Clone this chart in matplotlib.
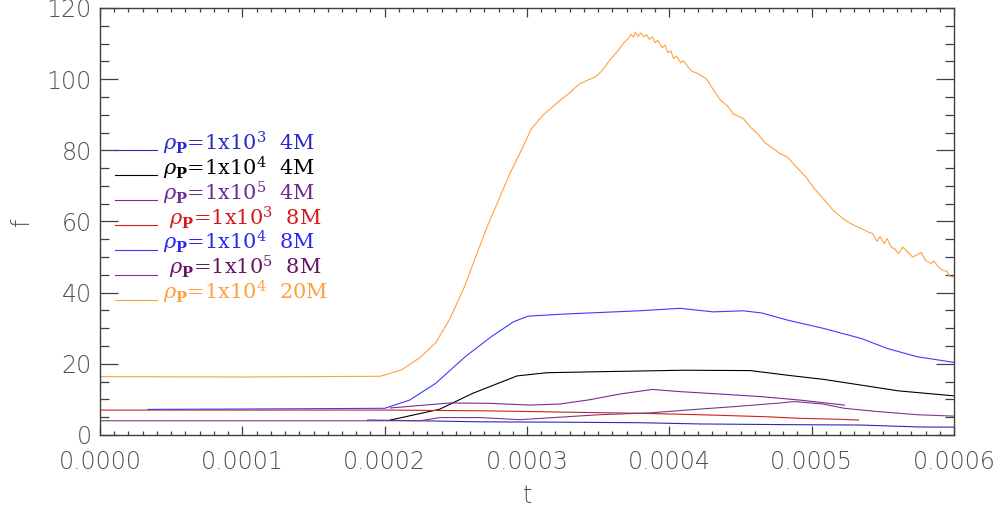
import matplotlib
matplotlib.use("Agg")
import matplotlib.pyplot as plt
import numpy as np
from matplotlib.ticker import MultipleLocator, FormatStrFormatter

# ---------------- data (t in seconds, f) ----------------
t_orange = [0.0, 1.0e-4, 1.97e-4, 2.12e-4, 2.25e-4, 2.36e-4, 2.46e-4, 2.56e-4, 2.64e-4, 2.72e-4,
            2.80e-4, 2.88e-4, 2.96e-4, 3.03e-4, 3.11e-4, 3.22e-4, 3.30e-4, 3.37e-4, 3.43e-4, 3.48e-4,
            3.53e-4, 3.58e-4, 3.64e-4, 3.68e-4, 3.71e-4, 3.73e-4, 3.75e-4, 3.76e-4, 3.78e-4, 3.80e-4,
            3.82e-4, 3.84e-4, 3.86e-4, 3.88e-4, 3.90e-4, 3.92e-4, 3.95e-4, 3.97e-4, 3.99e-4, 4.01e-4,
            4.03e-4, 4.05e-4, 4.08e-4, 4.10e-4, 4.13e-4, 4.16e-4, 4.20e-4, 4.26e-4, 4.31e-4, 4.36e-4,
            4.41e-4, 4.45e-4, 4.52e-4, 4.57e-4, 4.62e-4, 4.67e-4, 4.73e-4, 4.78e-4, 4.83e-4, 4.90e-4,
            4.96e-4, 5.02e-4, 5.09e-4, 5.15e-4, 5.22e-4, 5.27e-4, 5.32e-4, 5.37e-4, 5.40e-4, 5.43e-4,
            5.46e-4, 5.48e-4, 5.51e-4, 5.53e-4, 5.56e-4, 5.58e-4, 5.61e-4, 5.64e-4, 5.67e-4, 5.71e-4,
            5.74e-4, 5.77e-4, 5.80e-4, 5.84e-4, 5.86e-4, 5.89e-4, 5.92e-4, 5.95e-4, 5.97e-4, 6.00e-4]
f_orange = [16.4, 16.3, 16.5, 18.3, 21.8, 26.0, 32.8, 41.6, 50.1, 58.5,
            66.0, 73.5, 80.0, 86.0, 89.8, 93.6, 96.2, 98.7, 99.8, 100.6,
            102.5, 105.3, 108.0, 110.2, 111.4, 112.6, 111.8, 113.2, 112.0, 113.0,
            111.9, 112.5, 111.2, 111.9, 110.3, 110.9, 108.8, 109.6, 107.4, 108.0,
            105.8, 106.5, 104.6, 105.2, 103.5, 102.2, 101.6, 100.1, 97.0, 94.1,
            92.4, 90.2, 88.9, 86.5, 84.7, 82.2, 80.5, 79.0, 78.1, 75.0,
            72.5, 69.2, 66.0, 63.2, 60.8, 59.5, 58.5, 57.6, 57.0, 56.6,
            54.4, 55.8, 53.8, 55.2, 52.7, 52.4, 51.0, 52.8, 51.6, 50.0,
            50.6, 51.3, 49.0, 48.2, 48.9, 47.2, 46.3, 46.0, 44.6, 44.4]

t_blue8 = [0.337e-4, 1.0e-4, 2.0e-4, 2.175e-4, 2.358e-4, 2.566e-4, 2.748e-4, 2.904e-4, 3.008e-4,
           3.268e-4, 3.789e-4, 4.075e-4, 4.309e-4, 4.518e-4, 4.648e-4, 4.829e-4, 5.089e-4,
           5.35e-4, 5.532e-4, 5.74e-4, 6.0e-4]
f_blue8 = [7.2, 7.3, 7.5, 9.8, 14.5, 22.0, 27.6, 31.8, 33.4,
           34.0, 34.9, 35.6, 34.6, 34.9, 34.3, 32.3, 29.9,
           27.1, 24.3, 22.0, 20.4]

t_black4 = [2.04e-4, 2.2e-4, 2.384e-4, 2.618e-4, 2.93e-4, 3.138e-4, 3.528e-4, 4.101e-4,
            4.57e-4, 4.829e-4, 5.089e-4, 5.35e-4, 5.61e-4, 6.0e-4]
f_black4 = [4.2, 5.6, 7.2, 11.7, 16.6, 17.5, 17.8, 18.2,
            18.1, 16.8, 15.6, 14.0, 12.4, 11.0]

t_purple4 = [2.04e-4, 2.25e-4, 2.46e-4, 2.74e-4, 3.02e-4, 3.23e-4, 3.44e-4, 3.65e-4, 3.88e-4,
             4.07e-4, 4.36e-4, 4.64e-4, 4.92e-4, 5.23e-4]
f_purple4 = [7.6, 8.3, 9.0, 8.9, 8.4, 8.7, 9.9, 11.5, 12.8,
             12.2, 11.5, 10.8, 9.8, 8.4]

t_purple8 = [0.0, 2.25e-4, 2.39e-4, 2.67e-4, 2.95e-4, 3.23e-4, 3.51e-4, 3.86e-4, 4.22e-4,
             4.50e-4, 4.78e-4, 4.88e-4, 5.08e-4, 5.23e-4, 5.46e-4, 5.74e-4, 6.0e-4]
f_purple8 = [4.0, 4.0, 4.9, 4.9, 4.3, 5.0, 5.7, 6.2, 7.3,
             8.1, 9.0, 9.4, 8.7, 7.5, 6.6, 5.7, 5.3]

t_dblue4 = [1.88e-4, 2.25e-4, 2.67e-4, 3.23e-4, 3.79e-4, 4.22e-4, 4.85e-4, 5.34e-4, 5.76e-4, 6.0e-4]
f_dblue4 = [4.2, 4.0, 3.7, 3.6, 3.45, 3.1, 2.9, 2.8, 2.25, 2.2]

t_red8 = [0.0, 1.0e-4, 2.0e-4, 2.7e-4, 3.3e-4, 3.8e-4, 4.3e-4, 4.7e-4, 4.9e-4, 5.2e-4, 5.33e-4]
f_red8 = [7.0, 7.0, 7.0, 6.8, 6.4, 6.1, 5.6, 5.1, 4.7, 4.4, 4.2]

labels = [r'$\rho_{\mathbf{P}}$=1x10$^3$  4M',
          r'$\rho_{\mathbf{P}}$=1x10$^4$  4M',
          r'$\rho_{\mathbf{P}}$=1x10$^5$  4M',
          r' $\rho_{\mathbf{P}}$=1x10$^3$  8M',
          r'$\rho_{\mathbf{P}}$=1x10$^4$  8M',
          r' $\rho_{\mathbf{P}}$=1x10$^5$  8M',
          r'$\rho_{\mathbf{P}}$=1x10$^4$  20M']
line_colors = ['#2a2ab8', '#000000', '#7a2a9a', '#d02020', '#3c3cff', '#7a3a80', '#ffa040']
text_colors = ['#2a2ac8', '#000000', '#6e2890', '#d41a1a', '#2828f0', '#661466', '#ffa040']
legend_f = [80, 73, 66, 59, 52, 45, 38]

# ---------------- plotting ----------------
plt.rcParams['mathtext.fontset'] = 'dejavuserif'
fig = plt.figure(figsize=(10, 5.09), dpi=100)
ax = fig.add_axes([0.100, 0.1454, 0.854, 0.8389])

series = [(t_dblue4, f_dblue4, 0), (t_black4, f_black4, 1), (t_purple4, f_purple4, 2),
          (t_red8, f_red8, 3), (t_blue8, f_blue8, 4), (t_purple8, f_purple8, 5),
          (t_orange, f_orange, 6)]
for tt, ff, i in series:
    ax.plot(tt, ff, color=line_colors[i], lw=0.8)

# legend drawn IDL-style
for i, (lab, fy) in enumerate(zip(labels, legend_f)):
    ax.plot([0.105e-4, 0.40e-4], [fy, fy], color=line_colors[i], lw=0.8)
    ax.text(0.44e-4, fy, lab, color=text_colors[i], fontsize=15,
            family='DejaVu Serif', va='baseline', ha='left')

ax.set_xlim(0, 0.0006)
ax.set_ylim(0, 120)
ax.xaxis.set_major_locator(MultipleLocator(0.0001))
ax.xaxis.set_minor_locator(MultipleLocator(0.00001))
ax.yaxis.set_major_locator(MultipleLocator(20))
ax.yaxis.set_minor_locator(MultipleLocator(5))
ax.xaxis.set_major_formatter(FormatStrFormatter('%.4f'))

gray = '#404040'
for s in ax.spines.values():
    s.set_color(gray)
    s.set_linewidth(1.0)
ax.tick_params(axis='x', which='major', direction='in', length=6.5, width=0.9, color=gray,
               top=True, bottom=True, pad=11, labelsize=17, labelcolor='#505050')
ax.tick_params(axis='x', which='minor', direction='in', length=3.2, width=0.9, color=gray,
               top=True, bottom=True)
ax.tick_params(axis='y', which='major', direction='in', length=13, width=0.9, color=gray,
               left=True, right=True, pad=6, labelsize=17, labelcolor='#505050')
ax.tick_params(axis='y', which='minor', direction='in', length=6.5, width=0.9, color=gray,
               left=True, right=True)
for lab in ax.get_xticklabels() + ax.get_yticklabels():
    lab.set_fontweight('light')

ax.set_xlabel('t', fontsize=17, color='#505050', labelpad=7, fontweight='light')
ax.set_ylabel('f', fontsize=17, color='#505050', labelpad=9, fontweight='light')

fig.savefig('out.png', dpi=100)
